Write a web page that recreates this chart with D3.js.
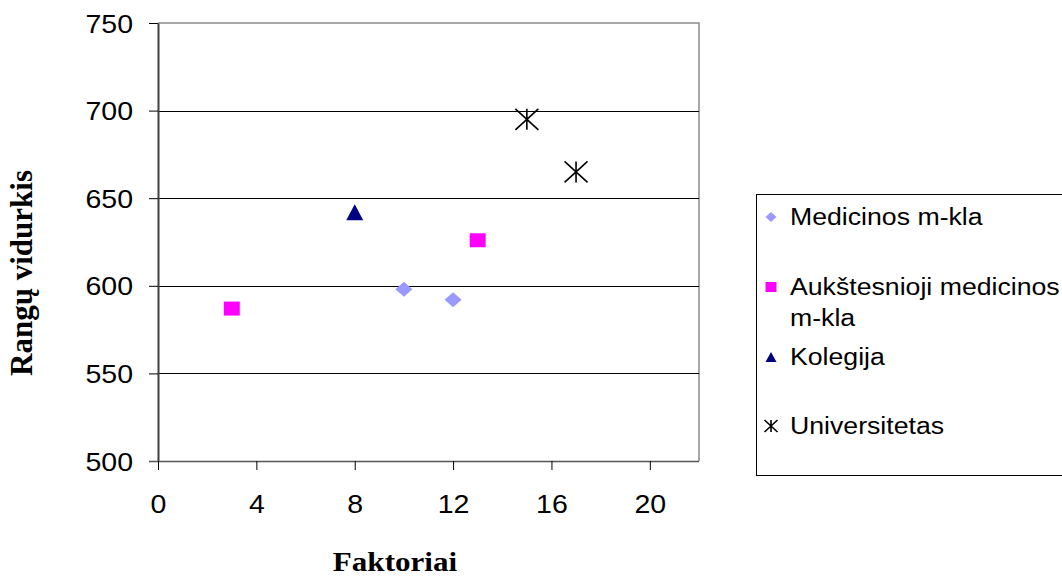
<!DOCTYPE html>
<html>
<head>
<meta charset="utf-8">
<script src="https://cdn.jsdelivr.net/npm/d3@7"></script>
<style>
  html, body { margin: 0; padding: 0; background: #fff; }
  svg { display: block; }
</style>
</head>
<body>
<svg id="chart" width="1062" height="576"></svg>
<script>
// Series names (legend order)
const seriesNames = ["Medicinos m-kla", "Aukštesnioji medicinos m-kla", "Kolegija", "Universitetas"];

// Point values per series: factor number (x) and mean rank (y)
const medicinosX = [10, 12];
const medicinosY = [598, 592];
const aukstesniojiX = [3, 13];
const aukstesniojiY = [587, 626];
const kolegijaX = [8];
const kolegijaY = [642];
const universitetasX = [15, 17];
const universitetasY = [695, 665];

// Axis ticks
const xTicks = [0, 4, 8, 12, 16, 20];
const yTicks = [500, 550, 600, 650, 700, 750];

const xLabel = "Faktoriai";
const yLabel = "Rangų vidurkis";

const svg = d3.select("#chart");
const SX = 1.14;        // horizontal text stretch for axis labels
const SX_LEGEND = 1.16; // horizontal text stretch for legend labels

const plot = { left: 158, right: 699, top: 23, bottom: 461 };
const x = d3.scaleLinear().domain([0, 22]).range([plot.left, plot.right]);
const y = d3.scaleLinear().domain([500, 750]).range([plot.bottom, plot.top]);

// Plot frame (top and right edges)
svg.append("path")
  .attr("d", `M${plot.left},${plot.top}H${plot.right}V${plot.bottom}`)
  .attr("fill", "none").attr("stroke", "#8a8a8a").attr("stroke-width", 1.5);

// Horizontal gridlines
svg.append("g").selectAll("line")
  .data(yTicks.filter(v => v > 500 && v < 750))
  .join("line")
  .attr("x1", plot.left).attr("x2", plot.right)
  .attr("y1", d => Math.round(y(d)) + 0.5).attr("y2", d => Math.round(y(d)) + 0.5)
  .attr("stroke", "#000").attr("stroke-width", 1);

// Y axis
const yAxis = svg.append("g")
  .attr("transform", `translate(${plot.left},0)`)
  .call(d3.axisLeft(y).tickValues(yTicks).tickSize(9).tickSizeOuter(0));
yAxis.select(".domain").attr("stroke", "#404040").attr("stroke-width", 2);
yAxis.selectAll(".tick line").attr("stroke", "#000");
yAxis.selectAll(".tick text")
  .attr("x", 0).attr("dy", null)
  .attr("transform", `translate(-25,9) scale(${SX},1)`)
  .attr("text-anchor", "end")
  .attr("fill", "#000")
  .style("font-family", "'Liberation Sans', Arial, sans-serif")
  .style("font-size", "25px");

// X axis
const xAxis = svg.append("g")
  .attr("transform", `translate(0,${plot.bottom})`)
  .call(d3.axisBottom(x).tickValues(xTicks).tickSize(9).tickSizeOuter(0));
xAxis.select(".domain").attr("stroke", "#555").attr("stroke-width", 1.5)
  .attr("d", `M${plot.left - 9},0.5H${plot.right}`);
xAxis.selectAll(".tick line").attr("stroke", "#000");
xAxis.selectAll(".tick text")
  .attr("y", 0).attr("dy", null)
  .attr("transform", `translate(0,52) scale(${SX},1)`)
  .attr("text-anchor", "middle")
  .attr("fill", "#000")
  .style("font-family", "'Liberation Sans', Arial, sans-serif")
  .style("font-size", "25px");

// Axis titles
svg.append("text")
  .attr("transform", `translate(395,571) scale(1.11,1)`)
  .attr("text-anchor", "middle")
  .style("font-family", "'Liberation Serif', 'Times New Roman', serif")
  .style("font-weight", "bold").style("font-size", "28px")
  .text(xLabel);

svg.append("text")
  .attr("transform", `translate(32,273) rotate(-90)`)
  .attr("text-anchor", "middle")
  .style("font-family", "'Liberation Serif', 'Times New Roman', serif")
  .style("font-weight", "bold").style("font-size", "31px")
  .text(yLabel);

// Marker shapes, given width w and height h
const shapes = {
  diamond: (w, h) => `M0,${-h/2}L${w/2},0L0,${h/2}L${-w/2},0Z`,
  square: (w, h) => `M${-w/2},${-h/2}H${w/2}V${h/2}H${-w/2}Z`,
  triangle: (w, h) => `M0,${-h/2}L${w/2},${h/2}H${-w/2}Z`,
  star: (w, h) => `M${-w/2},${-h/2}L${w/2},${h/2}M${w/2},${-h/2}L${-w/2},${h/2}M0,${-h/2}V${h/2}`
};

const seriesDefs = [
  { name: seriesNames[0], xs: medicinosX, ys: medicinosY, shape: "diamond", color: "#9999FF", w: 17, h: 15 },
  { name: seriesNames[1], xs: aukstesniojiX, ys: aukstesniojiY, shape: "square", color: "#FF00FF", w: 16, h: 14 },
  { name: seriesNames[2], xs: kolegijaX, ys: kolegijaY, shape: "triangle", color: "#000080", w: 17, h: 16 },
  { name: seriesNames[3], xs: universitetasX, ys: universitetasY, shape: "star", color: "#000000", w: 23, h: 21 }
];

function drawMarker(g, s, w, h) {
  const p = g.append("path").attr("d", shapes[s.shape](w, h));
  if (s.shape === "star") {
    p.attr("fill", "none").attr("stroke", s.color).attr("stroke-width", 1.6);
  } else {
    p.attr("fill", s.color);
  }
}

const marks = svg.append("g");
seriesDefs.forEach(s => {
  s.xs.forEach((xv, i) => {
    const g = marks.append("g").attr("transform", `translate(${x(xv)},${y(s.ys[i])})`);
    drawMarker(g, s, s.w, s.h);
  });
});

// Legend
const legend = svg.append("g");
legend.append("rect")
  .attr("x", 756.5).attr("y", 194.5).attr("width", 340).attr("height", 281)
  .attr("fill", "#fff").attr("stroke", "#000").attr("stroke-width", 1);

const legendRows = [217, 287, 357, 426];
const legendLines = [["Medicinos m-kla"], ["Aukštesnioji medicinos", "m-kla"], ["Kolegija"], ["Universitetas"]];
seriesDefs.forEach((s, i) => {
  const cy = legendRows[i];
  const g = legend.append("g").attr("transform", `translate(771,${cy})`);
  drawMarker(g, s, s.shape === "star" ? 13 : 11, s.shape === "star" ? 12 : 10);
  legendLines[i].forEach((line, j) => {
    legend.append("text")
      .attr("transform", `translate(790,${cy + 8 + j * 31}) scale(${SX_LEGEND},1)`)
      .style("font-family", "'Liberation Sans', Arial, sans-serif")
      .style("font-size", "23px")
      .attr("fill", "#000")
      .text(line);
  });
});
</script>
</body>
</html>
